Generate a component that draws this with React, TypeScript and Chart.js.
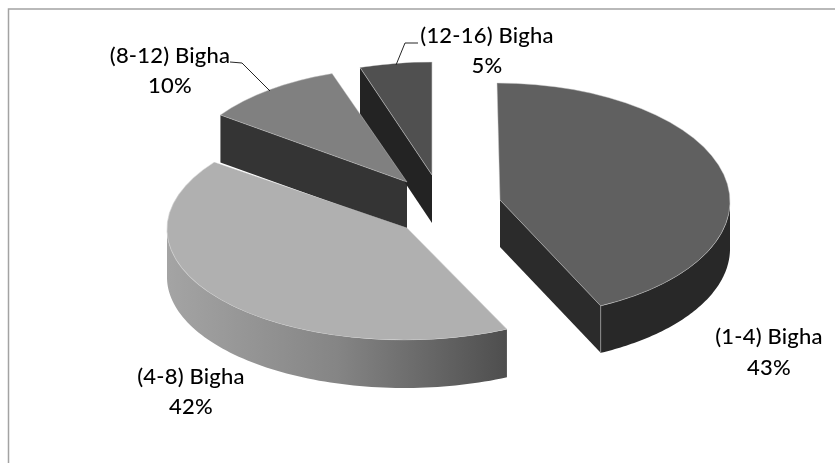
import React, { useEffect, useRef } from "react";
import { Chart, registerables } from "chart.js";

Chart.register(...registerables);

const categories = ["(1-4) Bigha", "(4-8) Bigha", "(8-12) Bigha", "(12-16) Bigha"];
const shares = [43, 42, 10, 5];
const topColors = ["#606060", "#b0b0b0", "#808080", "#505050"];
const flatWallColors = ["#2b2b2b", "#333333", "#343434", "#232323"];

// Where each exploded slice's tip sits and how it is foreshortened on the page.
const frames = [
  { ax: 500, ay: 200, rx: 230, ry: 117, skew: 3, depth: 47 },
  { ax: 407, ay: 228, rx: 240, ry: 112, skew: -2.5, depth: 48 },
  { ax: 407, ay: 182, rx: 227, ry: 114, skew: 5, depth: 47.5 },
  { ax: 432, ay: 175, rx: 233, ry: 113, skew: 0, depth: 48 },
];
const labelSpots = [
  { x: 769, y: 337, dy: 31 },
  { x: 191, y: 377, dy: 30 },
  { x: 170, y: 56, dy: 30 },
  { x: 487, y: 36, dy: 30 },
];
const leaders = [
  [[230, 62], [242, 63], [270, 91]],
  [[418, 43], [405, 43], [396, 65]],
];

const piePlugin = {
  id: "tiltedPie",
  beforeDraw(chart: any) {
    const { ctx, width, height } = chart;
    ctx.save();
    ctx.strokeStyle = "#a3a3a3";
    ctx.lineWidth = 1.5;
    ctx.beginPath();
    ctx.moveTo(8.5, height);
    ctx.lineTo(8.5, 9);
    ctx.lineTo(width, 9);
    ctx.stroke();
    ctx.restore();
  },
  beforeDatasetDraw(chart: any, args: any) {
    const { ctx } = chart;
    const arcs = args.meta.data;
    const at = (f: any, a: number) => [
      f.ax + f.rx * Math.cos(a) + f.skew * Math.sin(a),
      f.ay + f.ry * Math.sin(a),
    ];

    arcs.forEach((arc: any, i: number) => {
      const f = frames[i];
      const { startAngle: s, endAngle: e } = arc;
      // flat cut faces that turn toward the viewer
      const faces: number[] = [];
      if (Math.cos(e) > 0.01) faces.push(e);
      if (-Math.cos(s) > 0.01) faces.push(s);
      faces.forEach((a) => {
        const [px, py] = at(f, a);
        ctx.beginPath();
        ctx.moveTo(f.ax, f.ay);
        ctx.lineTo(px, py);
        ctx.lineTo(px, py + f.depth);
        ctx.lineTo(f.ax, f.ay + f.depth);
        ctx.closePath();
        ctx.fillStyle = flatWallColors[i];
        ctx.fill();
      });
      // outer rim
      const from = Math.max(s, 0);
      const to = Math.min(e, Math.PI);
      if (to > from) {
        const steps = 80;
        ctx.beginPath();
        for (let k = 0; k <= steps; k++) {
          const [px, py] = at(f, from + ((to - from) * k) / steps);
          if (k === 0) ctx.moveTo(px, py);
          else ctx.lineTo(px, py);
        }
        for (let k = steps; k >= 0; k--) {
          const [px, py] = at(f, from + ((to - from) * k) / steps);
          ctx.lineTo(px, py + f.depth);
        }
        ctx.closePath();
        if (i === 1) {
          const g = ctx.createLinearGradient(f.ax - f.rx, 0, at(f, from)[0], 0);
          g.addColorStop(0, "#a4a4a4");
          g.addColorStop(0.5, "#858585");
          g.addColorStop(1, "#4e4e4e");
          ctx.fillStyle = g;
        } else {
          ctx.fillStyle = "#282828";
        }
        ctx.fill();
        if (i === 0) {
          const [px, py] = at(f, to);
          ctx.strokeStyle = "#8c8c8c";
          ctx.lineWidth = 1;
          ctx.beginPath();
          ctx.moveTo(px, py);
          ctx.lineTo(px, py + f.depth);
          ctx.stroke();
        }
      }
    });

    arcs.forEach((arc: any, i: number) => {
      const f = frames[i];
      const k = 1 / arc.outerRadius;
      ctx.save();
      ctx.translate(f.ax, f.ay);
      ctx.transform(f.rx * k, 0, f.skew * k, f.ry * k, 0, 0);
      ctx.translate(-arc.x, -arc.y);
      arc.draw(ctx);
      ctx.restore();
    });
    return false;
  },
  afterDatasetsDraw(chart: any) {
    const { ctx } = chart;
    ctx.save();
    ctx.strokeStyle = "#262626";
    ctx.lineWidth = 1;
    leaders.forEach((pts) => {
      ctx.beginPath();
      pts.forEach(([x, y], k) => (k === 0 ? ctx.moveTo(x, y) : ctx.lineTo(x, y)));
      ctx.stroke();
    });
    ctx.fillStyle = "#000000";
    ctx.font = "500 22px Lato";
    (ctx as any).letterSpacing = "0.2px";
    ctx.textAlign = "center";
    ctx.textBaseline = "middle";
    categories.forEach((c, i) => {
      const p = labelSpots[i];
      ctx.fillText(c, p.x, p.y);
      ctx.fillText(`${shares[i]}%`, p.x, p.y + p.dy);
    });
    ctx.restore();
  },
};

export default function App() {
  const ref = useRef<HTMLCanvasElement>(null);
  useEffect(() => {
    document.body.style.margin = "0";
    document.body.style.background = "#ffffff";
    const chart = new Chart(ref.current as HTMLCanvasElement, {
      type: "pie",
      data: {
        labels: categories,
        datasets: [
          {
            data: shares,
            backgroundColor: topColors,
            borderColor: "rgba(205,205,205,0.6)",
            borderWidth: 1,
            hoverOffset: 0,
            clip: false,
          } as any,
        ],
      },
      options: {
        responsive: false,
        animation: false,
        events: [],
        layout: { padding: 0 },
        plugins: { legend: { display: false }, tooltip: { enabled: false } },
      },
      plugins: [piePlugin as any],
    });
    return () => chart.destroy();
  }, []);
  return <canvas ref={ref} width={835} height={463} style={{ display: "block", filter: "blur(0.4px)" }} />;
}
